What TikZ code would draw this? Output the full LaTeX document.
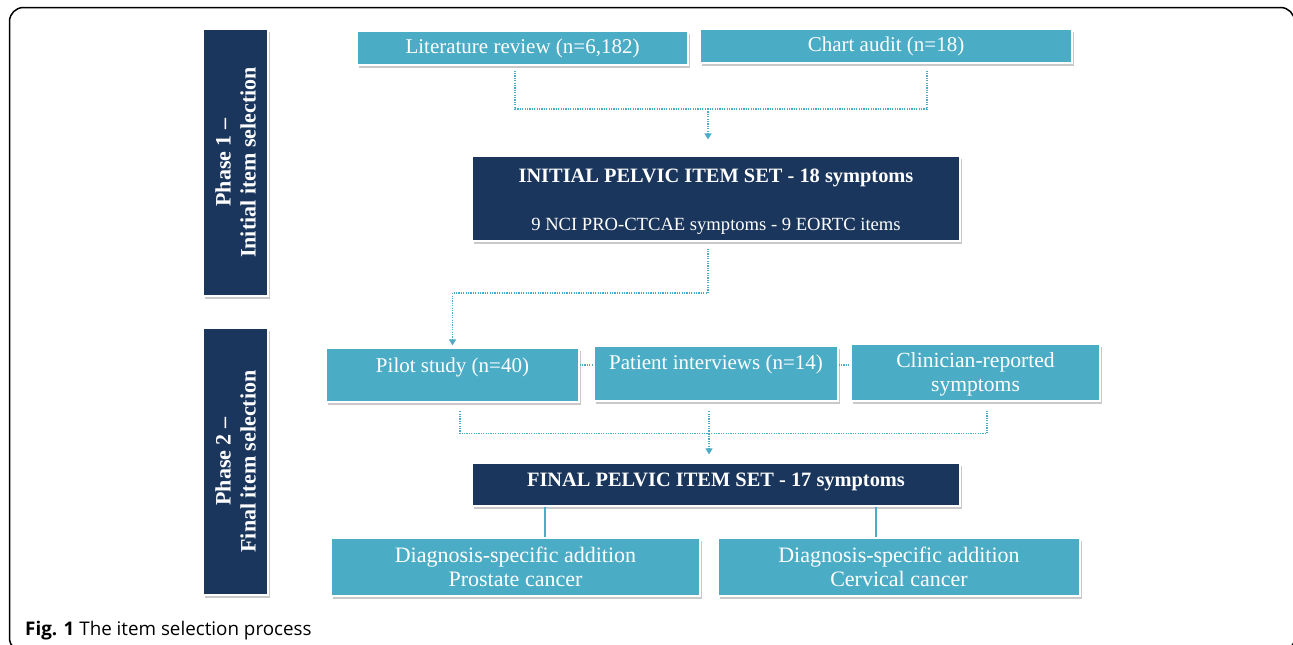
\documentclass[tikz,border=0pt]{standalone}
\usepackage{fontspec}
\setmainfont{Liberation Serif}
\newfontfamily\capfont{Open Sans}
\usetikzlibrary{arrows.meta,shadows}
\definecolor{navy}{HTML}{1B365D}
\definecolor{teal1}{HTML}{4BACC6}
\definecolor{conn}{HTML}{4BACC6}
\tikzset{
  basebox/.style={draw=white, line width=1.2pt, inner sep=2pt, align=center, text=white,
    drop shadow={shadow xshift=2pt, shadow yshift=-3pt, opacity=0.35, fill=black!60},
    font=\fontsize{21}{24}\selectfont},
  tbox/.style={basebox, fill=teal1},
  nbox/.style={basebox, fill=navy},
  phbox/.style={basebox, fill=navy, rotate=90, minimum width=267pt, minimum height=65pt,
    font=\bfseries\fontsize{22}{25}\selectfont},
  txt/.style={text=white, align=center, inner sep=0pt, font=\fontsize{21}{24}\selectfont},
  dotline/.style={draw=conn, line width=1.4pt, dash pattern=on 1.2pt off 1.2pt},
  arr/.style={dotline, -{Triangle[width=7pt,length=6pt]}},
  solidline/.style={draw=conn, line width=1.6pt}
}
\begin{document}
\begin{tikzpicture}[x=1pt,y=-1pt]
\useasboundingbox (0,0) rectangle (1293,645);
\fill[white] (0,0) rectangle (1293,645);
\draw[line width=1.5pt, rounded corners=14pt] (9.5,7.5) rectangle (1294.5,652);

% phase boxes
\node[phbox] (ph1) at (235.5,162.5) {Phase 1 --\\Initial item selection};
\node[phbox] (ph2) at (235.5,461.5) {Phase 2 --\\Final item selection};

% phase 1 boxes
\node[tbox, minimum width=331pt, minimum height=34pt] (lit) at (522.5,48) {Literature review (n=6,182)};
\node[tbox, minimum width=372pt, minimum height=34pt] (chart) at (886,46) {Chart audit (n=18)};
\node[nbox, minimum width=488pt, minimum height=85pt] (init) at (716,198.5) {};
\node[txt, font=\bfseries\fontsize{20.4}{24}\selectfont] (initT) at ([yshift=21pt]init.center) {INITIAL PELVIC ITEM SET - 18 symptoms};
\node[txt, font=\fontsize{18.6}{24}\selectfont] (initS) at ([yshift=-28pt]init.center) {9 NCI PRO-CTCAE symptoms - 9 EORTC items};

% phase 2 boxes
\node[tbox, minimum width=253pt, minimum height=54pt] (pilot) at (452.5,375) {};
\node[txt] (pilotT) at ([yshift=7.5pt]pilot.center) {Pilot study (n=40)};
\node[tbox, minimum width=244pt, minimum height=55pt] (patient) at (716,373.5) {};
\node[txt] (patientT) at ([yshift=9pt]patient.center) {Patient interviews (n=14)};
\node[tbox, minimum width=249pt, minimum height=57pt] (clin) at (975.5,372.5) {};
\node[txt, font=\fontsize{21.6}{24}\selectfont] (clinT) at ([yshift=-2pt]clin.center) {Clinician-reported\\symptoms};
\node[nbox, minimum width=488pt, minimum height=43pt] (final) at (716,484.5) {};
\node[txt, font=\bfseries\fontsize{20.4}{24}\selectfont] (finalT) at ([yshift=3pt]final.center) {FINAL PELVIC ITEM SET - 17 symptoms};
\node[tbox, minimum width=369pt, minimum height=58pt, font=\fontsize{22}{24}\selectfont] (prost) at (515.5,567) {Diagnosis-specific addition\\Prostate cancer};
\node[tbox, minimum width=362pt, minimum height=58pt, font=\fontsize{22}{24}\selectfont] (cerv) at (899,567) {Diagnosis-specific addition\\Cervical cancer};

% connectors phase 1
\coordinate (a1) at ([xshift=-7.5pt,yshift=-5pt]lit.south);
\coordinate (a2) at ([xshift=41pt,yshift=-7pt]chart.south);
\coordinate (j1) at (708,109);
\draw[dotline] (a1) |- (j1);
\draw[dotline] (a2) |- (j1);
\draw[arr] (j1) -- ([xshift=-8pt,yshift=16pt]init.north);

\coordinate (b0) at ([xshift=-8pt,yshift=-7pt]init.south);
\coordinate (b1) at (708,293);
\draw[arr] (b0) -- (b1) -| ([yshift=2pt]pilot.north);

% connectors phase 2
\draw[dotline] ([yshift=10pt]pilot.east) -- ([yshift=8.5pt]patient.west);
\draw[dotline] ([yshift=8.5pt]patient.east) -- ([yshift=7.5pt]clin.west);

\coordinate (c1) at ([xshift=7.5pt,yshift=-8.5pt]pilot.south);
\coordinate (c2) at ([xshift=-7pt,yshift=-9.5pt]patient.south);
\coordinate (c3) at ([xshift=11.5pt,yshift=-9.5pt]clin.south);
\coordinate (j3) at (709,433.5);
\coordinate (j3r) at (987,433.5);
\draw[dotline] (c1) |- (j3r) -- (c3);
\draw[dotline] (c2) -- (j3);
\draw[arr] (j3) -- ([xshift=-7pt,yshift=8pt]final.north);

\draw[solidline] ([xshift=-171pt]final.south) -- ([xshift=-171pt]final.south |- prost.north);
\draw[solidline] ([xshift=160pt]final.south) -- ([xshift=160pt]final.south |- cerv.north);

% caption
\node[anchor=base west, inner sep=0pt] (cap) at (25,635)
  {\capfont\fontsize{18.8}{22}\selectfont\textbf{Fig. 1} The item selection process};
\end{tikzpicture}
\end{document}
